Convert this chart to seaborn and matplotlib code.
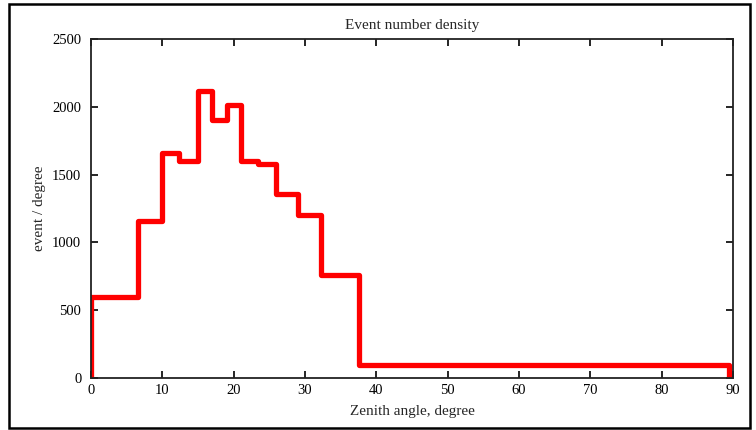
import matplotlib
matplotlib.use("Agg")
import matplotlib.pyplot as plt
import seaborn as sns
import pandas as pd
from matplotlib.patches import Rectangle

# Bin edges (degrees) and event densities
bin_edges = [0, 6.6, 10, 12.3, 15, 17, 19, 21, 23.4, 26, 29, 32.2, 37.5, 89.5]
densities = [600, 1160, 1660, 1600, 2120, 1900, 2010, 1600, 1580, 1360, 1200, 760, 95]
x_ticks = [0, 10, 20, 30, 40, 50, 60, 70, 80, 90]
y_ticks = [0, 500, 1000, 1500, 2000, 2500]

# Build step path: start from 0, rise to first level, drop to 0 at the end
xs = [bin_edges[0]] + bin_edges
ys = [0] + densities + [0]
df = pd.DataFrame({"angle": xs, "density": ys})

sns.set_style("ticks")
plt.rcParams["font.family"] = ["Liberation Serif", "DejaVu Serif"]

fig = plt.figure(figsize=(7.56, 4.30), dpi=100)
ax = fig.add_axes([91 / 756, 1 - 378 / 430, (733 - 91) / 756, (378 - 39) / 430])

sns.lineplot(data=df, x="angle", y="density", estimator=None, sort=False,
             drawstyle="steps-post", color="#ff0000", linewidth=3.8, ax=ax)

ax.set_xlim(0, 90)
ax.set_ylim(0, 2500)
ax.set_xticks(x_ticks)
ax.set_yticks(y_ticks)
ax.tick_params(direction="in", length=5, width=1.2, top=True, right=True,
               labelsize=10.5, colors="black")
ax.tick_params(axis="y", pad=7)
ax.tick_params(axis="x", pad=4)
for s in ax.spines.values():
    s.set_linewidth(1.3)
    s.set_color("#222222")
ax.set_title("Event number density", fontsize=11, pad=7)
ax.set_xlabel("Zenith angle, degree", fontsize=11, labelpad=6)
ax.set_ylabel("event / degree", fontsize=11, labelpad=4)

# Outer frame around the whole picture
fig.patches.append(Rectangle((9 / 756, 2 / 430), (750 - 9) / 756, (428 - 4) / 430,
                             transform=fig.transFigure, fill=False,
                             edgecolor="black", linewidth=1.8))

fig.savefig("out.png", dpi=100)
